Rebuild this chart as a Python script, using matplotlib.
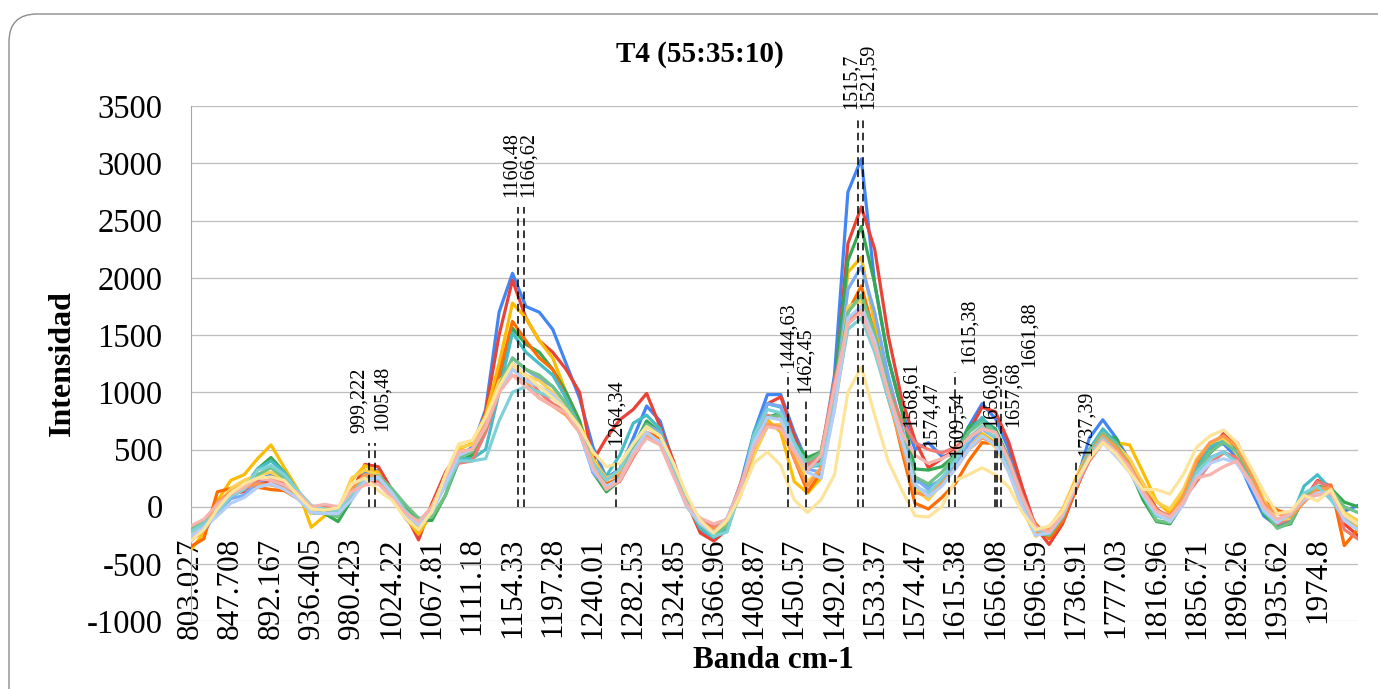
import numpy as np
import matplotlib
matplotlib.use('Agg')
import matplotlib.pyplot as plt
from matplotlib.patches import FancyBboxPatch
from matplotlib.transforms import IdentityTransform

plt.rcParams['font.family'] = ['Liberation Serif', 'DejaVu Serif']
plt.rcParams['axes.unicode_minus'] = False

# category labels shown on the band axis (one every 3 points)
bands = ['803.027', '847.708', '892.167', '936.405', '980.423', '1024.22', '1067.81',
         '1111.18', '1154.33', '1197.28', '1240.01', '1282.53', '1324.85', '1366.96',
         '1408.87', '1450.57', '1492.07', '1533.37', '1574.47', '1615.38', '1656.08',
         '1696.59', '1736.91', '1777.03', '1816.96', '1856.71', '1896.26', '1935.62',
         '1974.8']

# intensity of each replicate spectrum
s01 = [-300, -200, -60, 90, 150, 230, 280, 220, 100, -60, -40, -80, 80, 300, 320, 120, -100, -220, -50, 230,
       430, 520, 850, 1700, 2040, 1750, 1700, 1550, 1250, 950, 520, 250, 330, 600, 880, 750, 380, 60, -200, -270,
       -120, 200, 650, 980, 980, 650, 380, 430, 1150, 2750, 3040, 1950, 1300, 850, 500, 560, 440, 460, 700, 900,
       770, 500, 100, -200, -250, -120, 200, 600, 760, 600, 400, 150, -60, -80, 100, 380, 520, 550, 430, 160,
       -80, -170, -100, 100, 150, 140, -40, 10]
s02 = [-280, -220, -30, 120, 130, 200, 230, 180, 80, -40, -20, -60, 120, 370, 350, 150, -60, -290, 30, 300,
       480, 470, 830, 1500, 1980, 1650, 1450, 1350, 1200, 1000, 400, 600, 760, 850, 990, 700, 400, 40, -230, -300,
       -200, 150, 600, 900, 960, 620, 330, 400, 1000, 2300, 2620, 2250, 1500, 950, 580, 340, 420, 500, 650, 870,
       830, 560, 170, -180, -330, -150, 150, 420, 620, 550, 380, 200, -20, -100, 50, 330, 500, 640, 560, 320,
       20, -150, -120, 60, 230, 180, -150, -250]
s03 = [-380, -230, 50, 230, 280, 420, 540, 340, 150, -180, -80, -30, 230, 360, 300, 100, -90, -240, -60, 250,
       500, 560, 800, 1250, 1780, 1650, 1450, 1300, 1000, 750, 420, 250, 300, 500, 700, 640, 320, 20, -180, -250,
       -150, 100, 550, 760, 650, 220, 120, 250, 950, 2050, 2180, 1600, 1050, 600, 150, 80, 230, 350, 500, 640,
       560, 320, 0, -250, -200, -60, 250, 500, 650, 560, 540, 300, 50, -60, 120, 380, 520, 600, 520, 300,
       0, -150, -90, 50, 130, 110, -100, -180]
s04 = [-250, -170, -20, 110, 160, 330, 430, 300, 130, -50, -60, -130, 60, 250, 260, 150, 0, -120, -120, 100,
       400, 450, 700, 1100, 1560, 1420, 1350, 1200, 1000, 750, 300, 130, 230, 520, 750, 650, 350, 50, -170, -230,
       -160, 150, 580, 780, 820, 560, 430, 480, 1050, 2150, 2450, 1950, 1300, 850, 330, 320, 350, 450, 700, 760,
       680, 420, 80, -220, -260, -100, 230, 450, 620, 600, 330, 60, -130, -150, 30, 300, 470, 580, 500, 250,
       -60, -180, -150, 80, 180, 160, 40, 0]
s05 = [-350, -280, 130, 160, 200, 170, 150, 140, 70, -40, -30, -50, 100, 250, 250, 120, -50, -200, 10, 250,
       450, 480, 700, 1150, 1620, 1450, 1300, 1200, 950, 700, 380, 200, 250, 480, 650, 600, 300, 0, -150, -220,
       -130, 120, 500, 700, 720, 420, 130, 300, 900, 1700, 1930, 1500, 1000, 500, 30, -20, 80, 200, 400, 560,
       550, 350, 50, -150, -280, -130, 150, 440, 620, 560, 380, 150, -40, -120, 80, 380, 560, 600, 560, 320,
       50, -30, -70, 50, 150, 190, -340, -200]
s06 = [-250, -180, -40, 80, 170, 330, 400, 300, 130, -20, -10, -60, 80, 280, 280, 120, -40, -180, -30, 200,
       420, 420, 500, 1000, 1520, 1350, 1250, 1150, 950, 700, 380, 270, 450, 730, 800, 680, 330, 30, -190, -270,
       -180, 150, 650, 900, 870, 560, 350, 360, 950, 1700, 1850, 1500, 1050, 650, 230, 180, 230, 450, 650, 780,
       650, 400, 60, -200, -230, -90, 220, 500, 680, 560, 360, 120, -80, -110, 50, 330, 520, 580, 470, 250,
       -50, -150, -110, 180, 280, 150, -80, -150]
s07 = [-280, -200, -60, 70, 100, 220, 250, 180, 80, -40, -50, -50, 80, 260, 280, 140, -40, -200, -40, 220,
       470, 500, 700, 1050, 1300, 1200, 1120, 1050, 900, 650, 300, 170, 250, 520, 720, 650, 330, 40, -160, -240,
       -100, 180, 600, 900, 880, 540, 330, 300, 950, 1900, 2100, 1700, 1150, 700, 250, 150, 250, 350, 550, 680,
       600, 350, 20, -230, -240, -80, 180, 480, 640, 500, 330, 120, -60, -120, 40, 300, 430, 480, 420, 240,
       -20, -130, -80, 60, 110, 100, -60, -150]
s08 = [-180, -120, 0, 100, 150, 230, 260, 200, 110, -30, 10, -10, 120, 200, 220, 100, -40, -150, -20, 200,
       380, 400, 650, 1000, 1250, 1150, 1000, 900, 830, 650, 350, 170, 220, 430, 620, 560, 280, 10, -120, -180,
       -130, 200, 550, 800, 760, 500, 360, 480, 1100, 1600, 1750, 1450, 1050, 750, 560, 500, 470, 520, 600, 700,
       650, 420, 100, -170, -250, -100, 170, 400, 560, 500, 350, 150, -30, -80, 60, 220, 380, 470, 430, 250,
       -20, -150, -100, 50, 220, 170, -200, -280]
s09 = [-230, -150, 0, 160, 230, 280, 300, 240, 120, -60, -20, -40, 250, 320, 280, 80, -70, -180, -10, 260,
       520, 540, 760, 1100, 1200, 1150, 1100, 1000, 850, 650, 400, 250, 300, 500, 700, 620, 300, 0, -150, -250,
       -150, 100, 450, 700, 720, 480, 220, 330, 950, 1750, 1800, 1400, 950, 550, 150, 60, 200, 330, 500, 620,
       520, 300, -20, -260, -180, -20, 250, 480, 640, 540, 420, 200, 40, -20, 150, 420, 560, 600, 460, 320,
       60, -120, -100, 50, 120, 150, -50, -120]
s10 = [-200, -130, -30, 110, 180, 280, 340, 250, 120, -40, -50, -90, 90, 260, 270, 160, 20, -100, -90, 100,
       430, 480, 700, 1050, 1300, 1200, 1150, 1050, 900, 700, 350, 150, 250, 520, 720, 620, 320, 40, -160, -240,
       -170, 150, 550, 780, 800, 520, 400, 470, 1000, 1700, 1850, 1500, 1050, 650, 260, 200, 300, 450, 650, 740,
       650, 400, 60, -220, -250, -90, 220, 480, 640, 540, 360, 100, -120, -140, 30, 300, 480, 560, 480, 270,
       -30, -190, -140, 100, 170, 150, 0, -50]
s11 = [-300, -200, 40, 130, 170, 200, 190, 160, 90, -30, -20, -30, 150, 280, 260, 100, -30, -170, 0, 250,
       480, 500, 720, 1050, 1150, 1100, 950, 880, 800, 650, 380, 240, 280, 450, 620, 560, 290, 10, -140, -200,
       -120, 130, 520, 720, 700, 420, 180, 340, 850, 1600, 1700, 1400, 950, 550, 120, 100, 200, 330, 500, 600,
       560, 320, 0, -230, -200, -40, 230, 460, 620, 520, 360, 150, -30, -110, 90, 400, 560, 620, 520, 300,
       30, -60, -90, 40, 160, 160, -120, -200]
s12 = [-220, -150, -50, 90, 150, 320, 360, 280, 140, 10, -20, -40, 110, 240, 250, 130, -30, -150, -20, 180,
       400, 400, 420, 750, 1000, 1050, 1000, 950, 850, 650, 380, 230, 330, 560, 700, 620, 300, 20, -130, -260,
       -220, 150, 620, 850, 820, 560, 340, 380, 900, 1550, 1650, 1350, 950, 600, 180, 120, 250, 400, 600, 700,
       600, 350, 30, -200, -230, -70, 200, 450, 600, 480, 320, 100, -80, -100, 40, 300, 420, 480, 380, 230,
       -40, -130, -70, 120, 180, 60, -100, -150]
s13 = [-260, -180, -80, 30, 80, 170, 200, 150, 70, -50, -60, -60, 60, 220, 260, 120, -60, -160, -50, 200,
       450, 500, 700, 1000, 1200, 1100, 1050, 980, 850, 650, 320, 180, 240, 480, 650, 560, 270, 0, -150, -230,
       -100, 160, 560, 780, 760, 500, 300, 250, 850, 1650, 1750, 1450, 1000, 600, 200, 90, 180, 330, 500, 620,
       540, 300, 0, -250, -230, -80, 180, 430, 560, 440, 300, 100, -60, -130, 20, 260, 380, 420, 380, 200,
       -30, -140, -60, 60, 120, 120, -120, -200]
s14 = [-170, -110, 20, 110, 170, 250, 230, 190, 120, 0, 20, 0, 130, 190, 200, 80, -50, -130, 0, 260,
       480, 500, 700, 1000, 1150, 1050, 950, 880, 820, 650, 350, 150, 230, 450, 600, 540, 270, 20, -100, -150,
       -110, 180, 520, 700, 680, 480, 320, 450, 1050, 1600, 1700, 1400, 1000, 650, 450, 380, 420, 480, 600, 680,
       650, 400, 80, -180, -220, -60, 200, 430, 580, 480, 340, 130, -40, -90, 40, 250, 280, 350, 400, 220,
       0, -110, -60, 80, 100, 120, -80, -150]
s15 = [-300, -200, -20, 120, 200, 250, 260, 230, 100, -20, -30, -10, 200, 250, 140, 60, -100, -200, -40, 280,
       550, 580, 780, 1050, 1250, 1150, 1050, 950, 850, 700, 480, 350, 380, 550, 700, 620, 380, 100, -120, -230,
       -120, 100, 380, 480, 360, 60, -50, 60, 280, 1000, 1220, 800, 400, 150, -80, -90, 0, 230, 280, 340,
       280, 170, -50, -200, -170, -40, 220, 420, 560, 460, 300, 150, 150, 110, 280, 520, 620, 670, 560, 350,
       130, -60, -40, 100, 50, 150, -70, -150]

series = [s01, s02, s03, s04, s05, s06, s07, s08, s09, s10, s11, s12, s13, s14, s15]
colors = ['#4285F4', '#EA4335', '#FBBC04', '#34A853', '#FF6D01', '#46BDC6', '#7BAAF7', '#F07B72',
          '#FCD04F', '#71C287', '#FF994D', '#7ED1D7', '#B3CEFB', '#F7B4AE', '#FDE49B']

# marked bands
picks = ['999,222', '1005,48', '1160.48', '1166,62', '1264,34', '1444,63', '1462,45', '1515,7',
         '1521,59', '1568,61', '1574,47', '1609,54', '1615,38', '1656,08', '1657,68', '1661,88',
         '1737,39']
# (line top, label base, label shift in px) for each marked band
pick_layout = [(557, 645, -9), (557, 665, 8), (2620, 2705, -7), (2620, 2705, 4), (520, 540, 0),
               (1180, 1215, 0), (960, 990, 0), (3380, 3480, -6), (3380, 3480, 5), (585, 700, 2),
               (495, 520, 16), (410, 435, 8), (1175, 1245, 14), (610, 700, -4), (610, 700, 16),
               (1195, 1220, 28), (420, 440, 10)]

W, H = 1378, 689
fig = plt.figure(figsize=(W / 100, H / 100), dpi=100)
ax = fig.add_axes([190.5 / W, 67.9 / H, (1357.7 - 190.5) / W, (621.1 - 106.3) / H])

x = np.arange(len(s01))
for s, c in zip(series, colors):
    ax.plot(x, s, color=c, lw=2.3, zorder=3, solid_joinstyle='round')

tick_pos = np.arange(len(bands)) * 3
band_vals = [float(b) for b in bands]
for lab, (top, base, dx) in zip(picks, pick_layout):
    xp = np.interp(float(lab.replace(',', '.')), band_vals, tick_pos)
    ax.vlines(xp, 0, top, colors='black', linestyles=(0, (5, 3)), lw=1.1, zorder=5)
    ax.annotate(lab, xy=(xp, base), xytext=(dx * 0.72, 0), textcoords='offset points',
                rotation=90, ha='center', va='bottom', fontsize=14.5, zorder=6)

ax.set_xlim(0, len(s01) - 1)
ax.set_ylim(-1000, 3500)
ax.set_yticks(np.arange(-1000, 3501, 500))
ax.set_xticks(tick_pos)
ax.set_xticklabels(bands)
ax.tick_params(axis='both', length=0)
ax.tick_params(axis='y', pad=20, labelsize=23.5)
ax.tick_params(axis='x', pad=22, labelsize=22.5, labelrotation=90)
ax.grid(axis='y', color='#bdbdbd', lw=0.9)
ax.set_axisbelow(True)
for side in ['top', 'right']:
    ax.spines[side].set_visible(False)
ax.spines['bottom'].set_position(('data', 0))
ax.spines['bottom'].set_color('#bdbdbd')
ax.spines['left'].set_color('#a6a6a6')

fig.text(700 / W, 1 - 55 / H, 'T4 (55:35:10)', ha='center', va='center', fontsize=21, fontweight='bold')
fig.text(773 / W, 1 - 660 / H, 'Banda cm-1', ha='center', va='center', fontsize=22.5, fontweight='bold')
fig.text(62 / W, 1 - 363 / H, 'Intensidad', ha='center', va='center', rotation=90, fontsize=23,
         fontweight='bold')

frame = FancyBboxPatch((9, -40), 1420, H - 14 + 40, boxstyle='round,pad=0,rounding_size=28',
                       transform=IdentityTransform(), fill=False, ec='#8c8c8c', lw=1.0)
fig.add_artist(frame)

fig.savefig('out.png', dpi=100)
